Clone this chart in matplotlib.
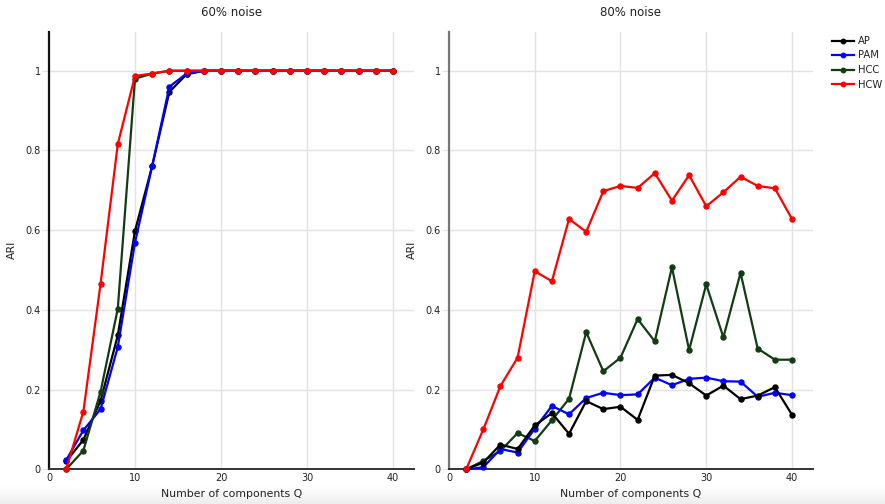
"""
ari_vs_components.py
--------------------
ARI of the four clustering methods against the number of components Q,
for the 60% and 80% noise settings, side by side.
"""

import numpy as np
import matplotlib
matplotlib.use("Agg")
import matplotlib.pyplot as plt
from matplotlib.lines import Line2D

# ── Data ──────────────────────────────────────────────────────────────────────
Q = list(range(2, 42, 2))
METHODS = ["AP", "PAM", "HCC", "HCW"]

ap_60 = [0.020, 0.074, 0.172, 0.336, 0.598, 0.761, 0.947, 0.991, 1, 1,
         1, 1, 1, 1, 1, 1, 1, 1, 1, 1]
pam_60 = [0.023, 0.098, 0.151, 0.307, 0.569, 0.761, 0.960, 0.993, 1, 1,
          1, 1, 1, 1, 1, 1, 1, 1, 1, 1]
hcc_60 = [0.0, 0.047, 0.195, 0.403, 0.980, 0.993, 1, 1, 1, 1,
          1, 1, 1, 1, 1, 1, 1, 1, 1, 1]
hcw_60 = [0.0, 0.145, 0.466, 0.816, 0.987, 0.993, 1, 1, 1, 1,
          1, 1, 1, 1, 1, 1, 1, 1, 1, 1]

ap_80 = [0.0, 0.017, 0.062, 0.051, 0.110, 0.141, 0.089, 0.171, 0.151, 0.157,
         0.124, 0.235, 0.237, 0.216, 0.185, 0.210, 0.176, 0.185, 0.206, 0.137]
pam_80 = [0.0, 0.005, 0.051, 0.042, 0.102, 0.159, 0.138, 0.179, 0.192, 0.186,
          0.188, 0.230, 0.211, 0.227, 0.230, 0.221, 0.220, 0.182, 0.192, 0.186]
hcc_80 = [0.0, 0.021, 0.046, 0.091, 0.071, 0.123, 0.177, 0.344, 0.246, 0.280,
          0.377, 0.321, 0.507, 0.299, 0.464, 0.331, 0.493, 0.303, 0.275, 0.275]
hcw_80 = [0.0, 0.100, 0.209, 0.280, 0.497, 0.472, 0.628, 0.596, 0.698, 0.711,
          0.706, 0.743, 0.674, 0.738, 0.660, 0.695, 0.734, 0.711, 0.705, 0.628]

COLORS = {"AP": "#000000", "PAM": "#0000ff", "HCC": "#123d12", "HCW": "#ff0000"}
# ─────────────────────────────────────────────────────────────────────────────

FONT = "DejaVu Sans"
TXT = "#222222"
GRID = "#e2e2e2"
W, H = 885, 504


def style_axes(ax, spine_color):
    ax.set_xlim(0, 42.45)
    ax.set_ylim(0, 1.098)
    ax.set_xticks([0, 10, 20, 30, 40])
    ax.set_yticks([0, 0.2, 0.4, 0.6, 0.8, 1])
    ax.set_yticklabels(["0", "0.2", "0.4", "0.6", "0.8", "1"])
    ax.grid(color=GRID, linewidth=1.0, zorder=0)
    ax.set_axisbelow(True)
    for s in ("top", "right"):
        ax.spines[s].set_visible(False)
    ax.spines["left"].set_color(spine_color)
    ax.spines["left"].set_linewidth(1.6)
    ax.spines["bottom"].set_color("#333333")
    ax.spines["bottom"].set_linewidth(1.4)
    ax.tick_params(axis="y", length=5, color=GRID, pad=1,
                   labelsize=7, labelcolor=TXT)
    ax.tick_params(axis="x", length=0, pad=3, labelsize=7, labelcolor=TXT)
    for lab in ax.get_xticklabels() + ax.get_yticklabels():
        lab.set_fontfamily(FONT)


def draw_panel(ax, series):
    for name, vals in series:
        ax.plot(Q, vals, color=COLORS[name], linewidth=1.6, marker="o",
                markersize=3.6, clip_on=False, zorder=3)


fig = plt.figure(figsize=(W / 100, H / 100), dpi=100)

# faint grey band along the bottom edge
band = fig.add_axes([0, 0, 1, 18 / H], zorder=-5)
band.imshow(np.linspace(1.0, 0.93, 50).reshape(-1, 1), cmap="gray",
            vmin=0, vmax=1, aspect="auto", extent=[0, 1, 0, 1])
band.axis("off")

ax1 = fig.add_axes([49 / W, 1 - 469.3 / H, 365 / W, 437.6 / H])
ax2 = fig.add_axes([449 / W, 1 - 469.3 / H, 364 / W, 437.6 / H])

draw_panel(ax1, [("AP", ap_60), ("PAM", pam_60), ("HCC", hcc_60), ("HCW", hcw_60)])
draw_panel(ax2, [("HCC", hcc_80), ("PAM", pam_80), ("AP", ap_80), ("HCW", hcw_80)])
style_axes(ax1, "#111111")
style_axes(ax2, "#777777")

# ── Titles and axis labels ────────────────────────────────────────────────────
for ax, title, ylab_x in ((ax1, "60% noise", 12), (ax2, "80% noise", 412)):
    pos = ax.get_position()
    cx = (pos.x0 + pos.x1) / 2
    fig.text(cx, 1 - 13 / H, title, ha="center", va="center",
             fontsize=8.5, color=TXT, family=FONT)
    fig.text(cx, 1 - 494 / H, "Number of components Q", ha="center",
             va="center", fontsize=7.8, color=TXT, family=FONT)
    fig.text(ylab_x / W, 1 - 250 / H, "ARI", ha="center", va="center",
             rotation=90, fontsize=7.8, color=TXT, family=FONT)

# ── Legend ────────────────────────────────────────────────────────────────────
handles = [Line2D([], [], color=COLORS[m], linewidth=1.6, marker="o",
                  markersize=3.2) for m in METHODS]
fig.legend(handles, METHODS, loc="upper left",
           bbox_to_anchor=(832 / W, 1 - 36 / H), frameon=False,
           prop={"family": FONT, "size": 7.2}, handlelength=2.2,
           handletextpad=0.4, labelspacing=0.45, borderaxespad=0,
           borderpad=0, labelcolor=TXT)

fig.savefig("out.png", dpi=100)
